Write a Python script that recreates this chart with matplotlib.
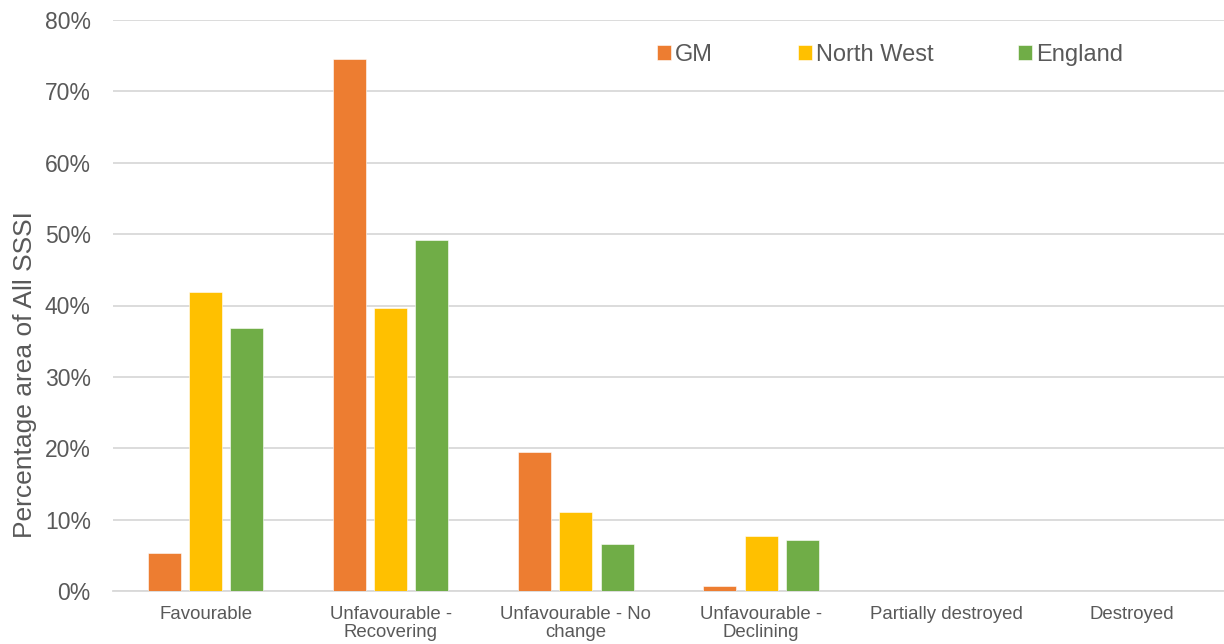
import numpy as np
import matplotlib
matplotlib.use('Agg')
import matplotlib.pyplot as plt
from matplotlib.ticker import PercentFormatter

# condition of SSSI land, share of total area
categories = ['Favourable', 'Unfavourable -\nRecovering', 'Unfavourable - No\nchange',
              'Unfavourable -\nDeclining', 'Partially destroyed', 'Destroyed']
gm = [5.3, 74.6, 19.5, 0.7, 0.0, 0.0]
north_west = [41.9, 39.6, 11.0, 7.7, 0.0, 0.0]
england = [36.8, 49.2, 6.6, 7.1, 0.0, 0.0]

series_names = ['GM', 'North West', 'England']
colours = ['#ED7D31', '#FFC000', '#70AD47']
text_col = '#595959'

plt.rcParams['font.family'] = ['Liberation Sans', 'DejaVu Sans']

fig = plt.figure(figsize=(12.24, 6.44), dpi=100)
ax = fig.add_axes([113/1224, 1 - 591/644, 1 - 113/1224, 571/644])

x = np.arange(len(categories))
w = 0.178
step = 0.222
for i, (vals, name, c) in enumerate(zip([gm, north_west, england], series_names, colours)):
    ax.bar(x + (i - 1) * step, vals, width=w, color=c, label=name,
           edgecolor='white', linewidth=0.4, zorder=3)

ax.set_xlim(-0.5, len(categories) - 0.5)
ax.set_ylim(0, 80)
ax.set_yticks(np.arange(0, 81, 10))
ax.yaxis.set_major_formatter(PercentFormatter(decimals=0))
ax.grid(axis='y', color='#d9d9d9', linewidth=1.3, zorder=0)
for s in ax.spines.values():
    s.set_visible(False)
ax.spines['bottom'].set_visible(True)
ax.spines['bottom'].set_color('#d9d9d9')
ax.spines['bottom'].set_linewidth(1.3)

ax.set_xticks(x)
ax.set_xticklabels(categories, fontsize=13.4, color=text_col, linespacing=1.05)
ax.tick_params(axis='x', length=0, pad=11)
ax.tick_params(axis='y', length=0, pad=16, labelsize=16.5, labelcolor=text_col)
ax.set_ylabel('Percentage area of All SSSI', fontsize=19, color=text_col)
ax.yaxis.set_label_coords(-0.0685, (591 - 375) / 571)

ax.legend(loc='center', bbox_to_anchor=(890/1224, 1 - 55/644), bbox_transform=fig.transFigure,
          ncol=3, frameon=False, fontsize=17, handlelength=0.6, handleheight=0.6,
          handletextpad=0.15, columnspacing=3.6, labelcolor=text_col)

fig.savefig('out.png', dpi=100)
